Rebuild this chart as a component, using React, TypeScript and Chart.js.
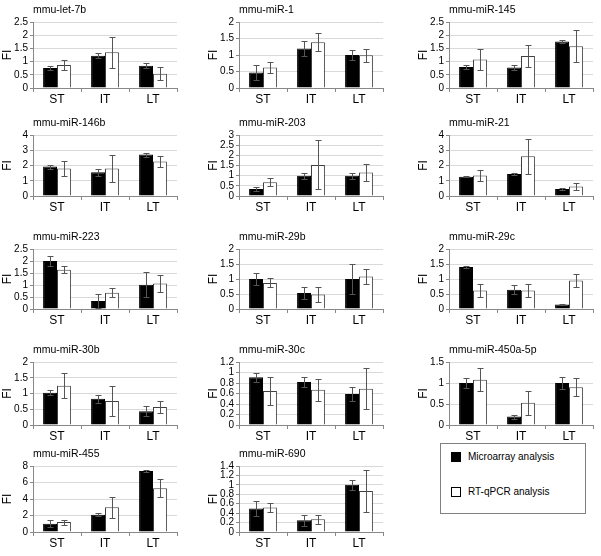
import React, { useEffect, useRef } from 'react';
import { Chart, registerables } from 'chart.js';

Chart.register(...registerables);

const FONT = '"Liberation Sans", Arial, sans-serif';

// ---------- data ----------
const panelTitles = [
  'mmu-let-7b', 'mmu-miR-1', 'mmu-miR-145',
  'mmu-miR-146b', 'mmu-miR-203', 'mmu-miR-21',
  'mmu-miR-223', 'mmu-miR-29b', 'mmu-miR-29c',
  'mmu-miR-30b', 'mmu-miR-30c', 'mmu-miR-450a-5p',
  'mmu-miR-455', 'mmu-miR-690',
];
const categories = ['ST', 'IT', 'LT'];
const seriesLabels = ['Microarray analysis', 'RT-qPCR analysis'];

const microarrayValues = [
  [0.76, 1.22, 0.84], [0.47, 1.2, 1.0], [0.8, 0.78, 1.76],
  [1.93, 1.56, 2.72], [0.35, 1.0, 1.0], [1.27, 1.45, 0.46],
  [2.0, 0.33, 1.01], [1.0, 0.53, 1.0], [1.4, 0.64, 0.15],
  [1.02, 0.83, 0.44], [0.91, 0.82, 0.59], [1.0, 0.2, 1.0],
  [1.0, 2.1, 7.4], [0.5, 0.25, 1.0],
];
const microarrayErrors = [
  [0.08, 0.1, 0.1], [0.23, 0.22, 0.16], [0.08, 0.08, 0.05],
  [0.13, 0.22, 0.13], [0.1, 0.15, 0.15], [0.05, 0.06, 0.07],
  [0.22, 0.28, 0.53], [0.19, 0.2, 0.5], [0.04, 0.15, 0.01],
  [0.08, 0.12, 0.17], [0.085, 0.1, 0.135], [0.11, 0.05, 0.14],
  [0.4, 0.2, 0.1], [0.15, 0.12, 0.1],
];
const qpcrValues = [
  [0.87, 1.35, 0.54], [0.62, 1.39, 0.99], [1.08, 1.21, 1.58],
  [1.8, 1.8, 2.26], [0.68, 1.53, 1.15], [1.34, 2.6, 0.62],
  [1.64, 0.68, 1.06], [0.87, 0.48, 1.08], [0.62, 0.62, 0.95],
  [1.25, 0.76, 0.57], [0.65, 0.67, 0.69], [1.08, 0.53, 0.9],
  [1.2, 3.0, 5.3], [0.52, 0.27, 0.87],
];
const qpcrErrors = [
  [0.18, 0.6, 0.24], [0.18, 0.27, 0.2], [0.4, 0.43, 0.61],
  [0.48, 0.88, 0.35], [0.21, 1.21, 0.43], [0.38, 1.13, 0.24],
  [0.15, 0.18, 0.36], [0.15, 0.24, 0.26], [0.21, 0.21, 0.21],
  [0.4, 0.48, 0.2], [0.27, 0.21, 0.39], [0.28, 0.28, 0.22],
  [0.3, 1.3, 1.1], [0.1, 0.1, 0.45],
];
const yMaxima = [2.5, 2, 2.5, 4, 3, 4, 2.5, 2, 2, 2, 1.2, 1.5, 8, 1.4];
const ySteps = [0.5, 0.5, 0.5, 1, 0.5, 1, 0.5, 0.5, 0.5, 0.5, 0.2, 0.5, 2, 0.2];
const yAxisTitle = 'FI';

// ---------- styling / layout ----------
const seriesFill = ['#000000', '#ffffff'];
const seriesBorder = ['#000000', '#404040'];
const colAxisX = [33, 239, 449];
const rowPlotTop = [22, 135, 249, 362, 466];
const rowPlotBottom = [88, 196, 309, 425, 532];
const PLOT_W = 144;
const AXIS_W = 33;
const TITLE_H = 22;
const XAXIS_H = 20;
const RIGHT_PAD = 8;

const errorBarPlugin = {
  id: 'errorBars',
  afterDatasetsDraw(chart: any) {
    const ctx = chart.ctx;
    const yScale = chart.scales.y;
    chart.data.datasets.forEach((ds: any, di: number) => {
      const meta = chart.getDatasetMeta(di);
      meta.data.forEach((bar: any, i: number) => {
        const v = ds.data[i];
        const e = ds.errors[i];
        const x = Math.round(bar.x) + 0.5;
        const yT = Math.round(yScale.getPixelForValue(v + e)) + 0.5;
        const yB = Math.round(yScale.getPixelForValue(Math.max(0, v - e))) + 0.5;
        ctx.save();
        ctx.strokeStyle = '#555555';
        ctx.lineWidth = 1;
        ctx.beginPath();
        ctx.moveTo(x, yT);
        ctx.lineTo(x, yB);
        ctx.moveTo(x - 3, yT);
        ctx.lineTo(x + 3, yT);
        ctx.moveTo(x - 3, yB);
        ctx.lineTo(x + 3, yB);
        ctx.stroke();
        ctx.restore();
      });
    });
  },
};

function Panel({ idx }: { idx: number }) {
  const ref = useRef<HTMLCanvasElement>(null);
  const row = Math.floor(idx / 3);
  const col = idx % 3;
  const left = colAxisX[col] - AXIS_W;
  const top = rowPlotTop[row] - TITLE_H;
  const plotH = rowPlotBottom[row] - rowPlotTop[row];
  const width = AXIS_W + PLOT_W + RIGHT_PAD;
  const height = TITLE_H + plotH + XAXIS_H;

  useEffect(() => {
    if (!ref.current) return;
    const chart = new Chart(ref.current, {
      type: 'bar',
      data: {
        labels: categories,
        datasets: [
          {
            label: seriesLabels[0],
            data: microarrayValues[idx],
            errors: microarrayErrors[idx],
            backgroundColor: seriesFill[0],
            borderColor: seriesBorder[0],
            borderWidth: 1,
            categoryPercentage: 0.58,
            barPercentage: 1,
          } as any,
          {
            label: seriesLabels[1],
            data: qpcrValues[idx],
            errors: qpcrErrors[idx],
            backgroundColor: seriesFill[1],
            borderColor: seriesBorder[1],
            borderWidth: 1,
            categoryPercentage: 0.58,
            barPercentage: 1,
          } as any,
        ],
      },
      options: {
        responsive: false,
        animation: false,
        events: [],
        layout: { padding: { left: 0, right: RIGHT_PAD, top: 0, bottom: 0 } },
        plugins: {
          legend: { display: false },
          tooltip: { enabled: false },
          title: {
            display: true,
            text: panelTitles[idx],
            align: 'start',
            fullSize: false,
            color: '#000',
            font: { family: FONT, size: 10.5, weight: 'normal' },
            padding: { top: 3.7, bottom: 5.7 },
          },
        },
        scales: {
          x: {
            grid: {
              display: true,
              drawOnChartArea: false,
              drawTicks: true,
              tickLength: 4,
              color: '#888888',
              offset: true,
            },
            border: { color: '#888888' },
            ticks: {
              color: '#000',
              padding: 0,
              font: { family: FONT, size: 12 },
              maxRotation: 0,
            },
            afterFit: (s: any) => { s.height = XAXIS_H; },
          },
          y: {
            min: 0,
            max: yMaxima[idx],
            grid: {
              color: '#d9d9d9',
              tickColor: '#888888',
              tickLength: 3,
            },
            border: { color: '#888888' },
            ticks: {
              stepSize: ySteps[idx],
              autoSkip: false,
              color: '#000',
              padding: 2,
              font: { family: FONT, size: 10, lineHeight: 1 },
              callback: (v: any) => String(Math.round(Number(v) * 10) / 10),
            },
            title: {
              display: true,
              text: yAxisTitle,
              color: '#000',
              font: { family: FONT, size: 12 },
              padding: 0,
            },
            afterFit: (s: any) => { s.width = AXIS_W; },
          },
        },
      } as any,
      plugins: [errorBarPlugin],
    });
    return () => chart.destroy();
  }, [idx]);

  return (
    <canvas
      ref={ref}
      width={width}
      height={height}
      style={{ position: 'absolute', left, top, width, height }}
    />
  );
}

function Legend() {
  return (
    <div
      style={{
        position: 'absolute', left: 440, top: 443, width: 146, height: 71,
        border: '1px solid #808080', boxSizing: 'border-box',
        fontFamily: FONT, fontSize: 10, color: '#000', background: '#fff',
      }}
    >
      {seriesLabels.map((lab, i) => (
        <div key={lab}>
          <div
            style={{
              position: 'absolute', left: 10, top: 8 + i * 35, width: 10, height: 10,
              background: seriesFill[i], border: '1px solid #000', boxSizing: 'border-box',
            }}
          />
          <span style={{ position: 'absolute', left: 27, top: 7 + i * 35, whiteSpace: 'nowrap' }}>{lab}</span>
        </div>
      ))}
    </div>
  );
}

export default function App() {
  return (
    <div
      style={{
        position: 'absolute', left: 0, top: 0, width: 601, height: 556,
        background: '#fff', overflow: 'hidden',
      }}
    >
      {panelTitles.map((_, i) => <Panel key={i} idx={i} />)}
      <Legend />
    </div>
  );
}
